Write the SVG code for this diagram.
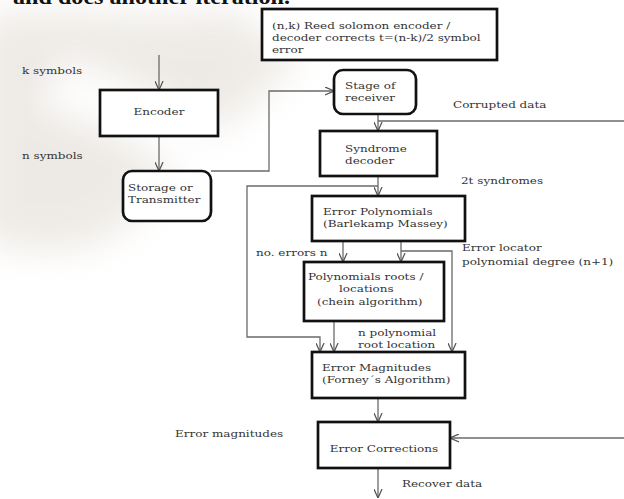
<svg xmlns="http://www.w3.org/2000/svg" width="624" height="499" viewBox="0 0 624 499">
<defs>
<filter id="blur" x="-50%" y="-50%" width="200%" height="200%"><feGaussianBlur stdDeviation="18"/></filter>
<marker id="arr" viewBox="0 0 10 10" refX="10" refY="5" markerWidth="9" markerHeight="9" markerUnits="userSpaceOnUse" orient="auto">
<path d="M0,0.5 L10,5 L0,9.5" fill="none" stroke="#555" stroke-width="1.4"/>
</marker>
</defs>
<style>
.box{fill:#fff;stroke:#111;stroke-width:2.7}
.t{font-family:"DejaVu Serif","Liberation Serif",serif;font-size:10px;fill:#333;transform-box:fill-box;transform-origin:0 50%;transform:scaleX(1.2)}
.c{text-anchor:middle;transform-origin:50% 50%}
.ln{fill:none;stroke:#6a6a6a;stroke-width:1.3}
</style>
<rect width="624" height="499" fill="#fff"/>
<g id="watermark" filter="url(#blur)" opacity="0.5">
<path d="M-20,20 C60,0 150,30 230,10 L300,60 C240,110 180,170 120,230 C70,260 20,250 -20,240 Z" fill="#ddd6cc"/>
<path d="M60,60 C120,70 180,110 250,150 L200,190 C150,150 100,120 40,110 Z" fill="#fff"/>
</g>
<text x="13" y="4" textLength="277" lengthAdjust="spacingAndGlyphs" style="font-family:'Liberation Serif',serif;font-size:22px;font-weight:bold;fill:#111">and does another iteration.</text>
<g id="connectors">
<path class="ln" d="M159,55 V90" marker-end="url(#arr)"/>
<path class="ln" d="M159,136 V171" marker-end="url(#arr)"/>
<path class="ln" d="M211,171 H269 V91 H334" marker-end="url(#arr)"/>
<path class="ln" d="M378,114 V131" marker-end="url(#arr)"/>
<path class="ln" d="M378,121 H624"/>
<path class="ln" d="M378,176 V196" marker-end="url(#arr)"/>
<path class="ln" d="M378,186 H247 V337 H320 V352" marker-end="url(#arr)"/>
<path class="ln" d="M343,241 V262" marker-end="url(#arr)"/>
<path class="ln" d="M401,241 V262" marker-end="url(#arr)"/>
<path class="ln" d="M401,251 H452 V352" marker-end="url(#arr)"/>
<path class="ln" d="M334,321 V352" marker-end="url(#arr)"/>
<path class="ln" d="M378,398 V422" marker-end="url(#arr)"/>
<path class="ln" d="M624,438 H450" marker-end="url(#arr)"/>
<path class="ln" d="M378,468 V498" marker-end="url(#arr)"/>
</g>
<g id="note">
<rect class="box" x="262" y="9" width="235" height="51"/>
<text class="t" x="272" y="29">(n,k) Reed solomon  encoder /</text>
<text class="t" x="272" y="41">decoder corrects t=(n-k)/2  symbol</text>
<text class="t" x="272" y="53">error</text>
</g>
<g id="encoder">
<rect class="box" x="100" y="90" width="118" height="46"/>
<text class="t c" x="159" y="115">Encoder</text>
</g>
<g id="storage">
<rect class="box" x="123" y="171" width="88" height="50" rx="9"/>
<text class="t" x="128" y="191">Storage or</text>
<text class="t" x="128" y="203">Transmitter</text>
</g>
<g id="stage">
<rect class="box" x="334" y="70" width="82" height="44" rx="9"/>
<text class="t" x="345" y="89">Stage of</text>
<text class="t" x="345" y="101">receiver</text>
</g>
<g id="syndrome">
<rect class="box" x="320" y="131" width="117" height="45"/>
<text class="t" x="345" y="152">Syndrome</text>
<text class="t" x="345" y="164">decoder</text>
</g>
<g id="errpoly">
<rect class="box" x="312" y="196" width="153" height="45"/>
<text class="t" x="323" y="215">Error Polynomials</text>
<text class="t" x="323" y="227">(Barlekamp Massey)</text>
</g>
<g id="roots">
<rect class="box" x="304" y="262" width="140" height="59"/>
<text class="t" x="308" y="280">Polynomials roots /</text>
<text class="t" x="339" y="292">locations</text>
<text class="t" x="317" y="305">(chein algorithm)</text>
</g>
<g id="magnitudes">
<rect class="box" x="312" y="352" width="153" height="46"/>
<text class="t" x="322" y="371">Error Magnitudes</text>
<text class="t" x="322" y="383">(Forney´s Algorithm)</text>
</g>
<g id="corrections">
<rect class="box" x="318" y="422" width="132" height="46"/>
<text class="t c" x="384" y="452">Error Corrections</text>
</g>
<g id="labels">
<text class="t" x="22" y="74">k symbols</text>
<text class="t" x="22" y="159">n symbols</text>
<text class="t" x="453" y="108">Corrupted data</text>
<text class="t" x="461" y="184">2t syndromes</text>
<text class="t" x="256" y="256">no. errors n</text>
<text class="t" x="462" y="251">Error locator</text>
<text class="t" x="462" y="265">polynomial  degree (n+1)</text>
<text class="t" x="358" y="336">n polynomial</text>
<text class="t" x="358" y="348">root location</text>
<text class="t" x="175" y="437">Error magnitudes</text>
<text class="t" x="402" y="487">Recover data</text>
</g>
</svg>
